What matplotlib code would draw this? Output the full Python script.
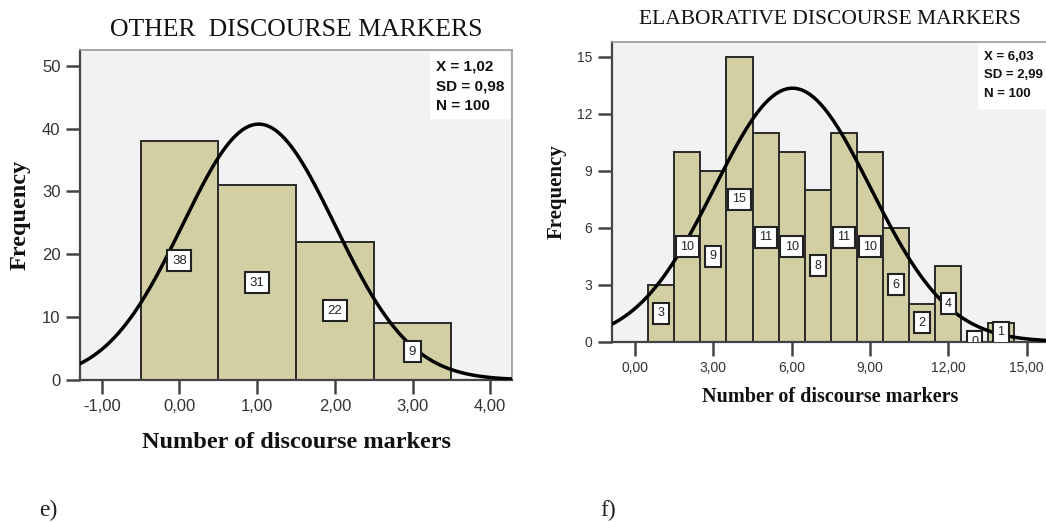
import numpy as np
import matplotlib
matplotlib.use("Agg")
import matplotlib.pyplot as plt

# ---------------- data ----------------
other_bins = [0, 1, 2, 3]
other_counts = [38, 31, 22, 9]
other_mean, other_sd, other_n = 1.02, 0.98, 100
other_xticks = [-1, 0, 1, 2, 3, 4]
other_yticks = [0, 10, 20, 30, 40, 50]

elab_bins = [1, 2, 3, 4, 5, 6, 7, 8, 9, 10, 11, 12, 13, 14]
elab_counts = [3, 10, 9, 15, 11, 10, 8, 11, 10, 6, 2, 4, 0, 1]
elab_mean, elab_sd, elab_n = 6.03, 2.99, 100
elab_xticks = [0, 3, 6, 9, 12, 15]
elab_yticks = [0, 3, 6, 9, 12, 15]

BAR = "#d1cfa3"
BG = "#f2f2f2"
SERIF = ["Liberation Serif", "DejaVu Serif"]
SANS = ["Liberation Sans", "DejaVu Sans"]

fig = plt.figure(figsize=(10.46, 5.23), dpi=100)
fig.patch.set_facecolor("white")


def fmt(v):
    return ("%.2f" % v).replace(".", ",")


def panel(rect, bins, counts, mean, sd, n, xticks, yticks, xlim, ylim,
          title, title_size, title_y, xlab_size, ylab_size, xlab_y, ylab_x,
          tick_size, box_size, stats_box, stats_size, stats_ls,
          show_right=True):
    ax = fig.add_axes(rect)
    ax.set_facecolor(BG)
    ax.bar(bins, counts, width=1.0, color=BAR, edgecolor="#2a2a2a",
           linewidth=1.4, zorder=2)
    xs = np.linspace(xlim[0], xlim[1], 400)
    ys = n * 1.0 / (sd * np.sqrt(2 * np.pi)) * np.exp(-0.5 * ((xs - mean) / sd) ** 2)
    ax.plot(xs, ys, color="black", lw=2.5, zorder=4)
    for b, c in zip(bins, counts):
        t = ax.text(b, c / 2.0, str(c), ha="center", va="center",
                    fontsize=box_size, family=SANS, color="#222222", zorder=5,
                    bbox=dict(boxstyle="square,pad=0.35", fc="white",
                              ec="#222222", lw=1.5))
        t.set_clip_on(True)
    ax.set_xlim(*xlim)
    ax.set_ylim(*ylim)
    ax.set_xticks(xticks)
    ax.set_xticklabels([fmt(t) for t in xticks])
    ax.set_yticks(yticks)
    ax.set_yticklabels([str(t) for t in yticks])
    ax.tick_params(axis="both", length=10, width=1.8, color="#444444",
                   labelsize=tick_size, labelcolor="#333333", pad=4)
    for lab in ax.get_xticklabels() + ax.get_yticklabels():
        lab.set_family(SANS)
    for s in ["left", "bottom"]:
        ax.spines[s].set_color("#444444")
        ax.spines[s].set_linewidth(1.6)
    for s in ["top", "right"]:
        ax.spines[s].set_color("#9a9a9a")
        ax.spines[s].set_linewidth(1.2)
    ax.spines["right"].set_visible(show_right)
    ax.set_axisbelow(True)
    # stats box
    bx0, by0, bx1, by1 = stats_box
    ax.add_patch(plt.Rectangle((bx0, by0), bx1 - bx0, by1 - by0,
                               transform=ax.transAxes, fc="white", ec="none",
                               zorder=6))
    ax.text(bx0 + 0.015, by1 - 0.025,
            "X = %s\nSD = %s\nN = %d" % (fmt(mean), fmt(sd), n),
            transform=ax.transAxes, ha="left", va="top", fontsize=stats_size,
            fontweight="bold", family=SANS, linespacing=stats_ls, zorder=7,
            color="#111111")
    # titles / labels (figure coordinates)
    cx = rect[0] + rect[2] / 2
    fig.text(cx, title_y, title, ha="center", va="center",
             fontsize=title_size, family=SERIF, color="#111111")
    fig.text(cx, xlab_y, "Number of discourse markers", ha="center",
             va="center", fontsize=xlab_size, fontweight="bold", family=SERIF,
             color="#111111")
    fig.text(ylab_x, rect[1] + rect[3] / 2, "Frequency", ha="center",
             va="center", rotation=90, fontsize=ylab_size, fontweight="bold",
             family=SERIF, color="#111111")
    return ax


H = 523.0
W = 1046.0

panel([80 / W, 1 - 380 / H, 432 / W, 330 / H],
      other_bins, other_counts, other_mean, other_sd, other_n,
      other_xticks, other_yticks, (-1.28, 4.28), (0, 52.5),
      "OTHER  DISCOURSE MARKERS", 18.5, 1 - 30 / H, 17.5, 17.5, 1 - 443 / H,
      20 / W, 12, 9.5, (0.81, 0.79, 0.995, 0.995), 11, 1.5)

panel([611.7 / W, 1 - 341.7 / H, 436 / W, 300 / H],
      elab_bins, elab_counts, elab_mean, elab_sd, elab_n,
      elab_xticks, elab_yticks, (-0.89, 15.8), (0, 15.79),
      "ELABORATIVE DISCOURSE MARKERS", 15.5, 1 - 20 / H, 14.5, 15, 1 - 397 / H,
      557 / W, 10, 9, (0.84, 0.775, 1.0, 0.995), 9.5, 1.75, show_right=False)

fig.text(48 / W, 1 - 510 / H, "e)", ha="center", va="center", fontsize=17,
         family=SERIF, color="#222222")
fig.text(608 / W, 1 - 510 / H, "f)", ha="center", va="center", fontsize=17,
         family=SERIF, color="#222222")

fig.savefig("out.png", dpi=100, facecolor="white")
